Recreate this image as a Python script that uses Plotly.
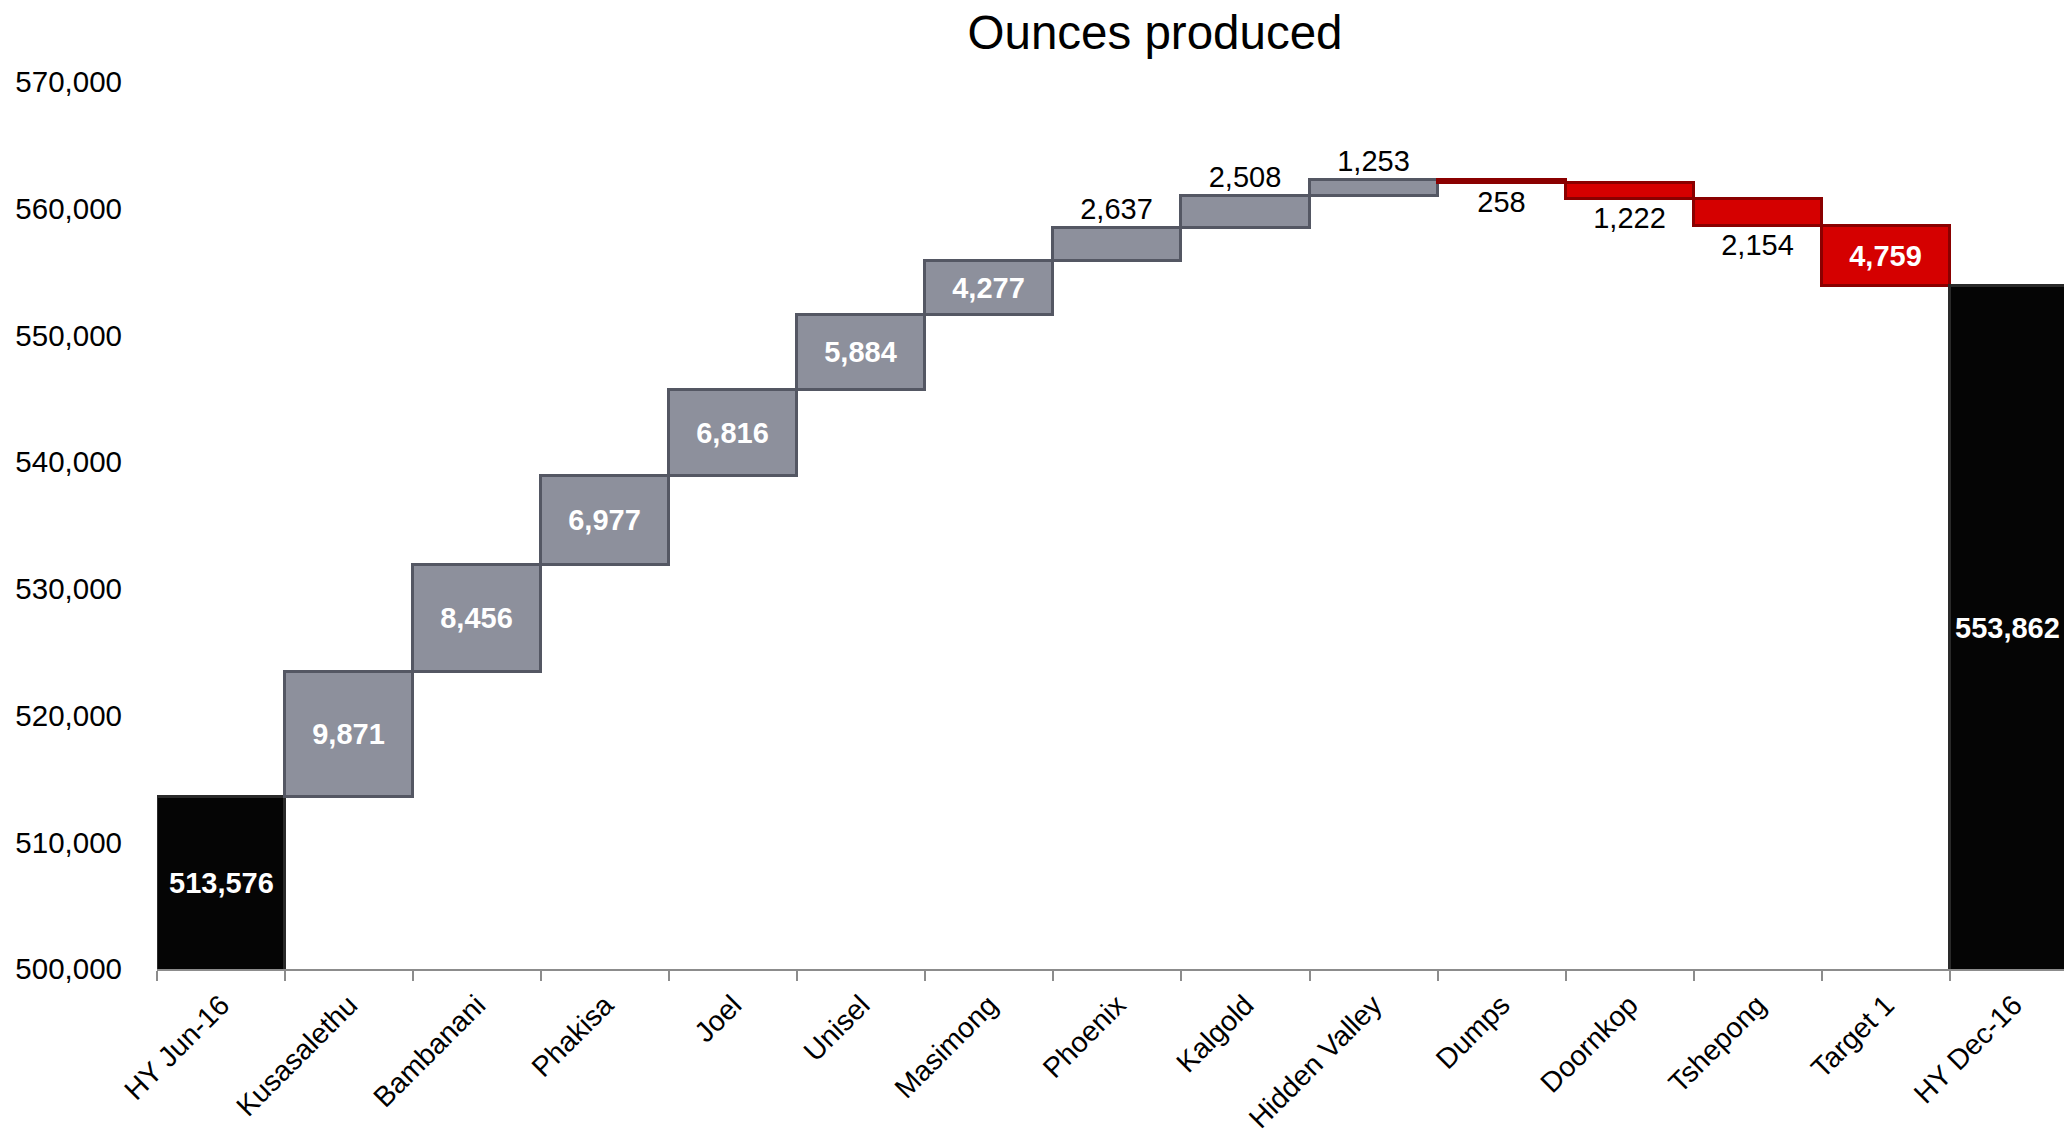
import plotly.graph_objects as go

categories = ["HY Jun-16", "Kusasalethu", "Bambanani", "Phakisa", "Joel", "Unisel",
              "Masimong", "Phoenix", "Kalgold", "Hidden Valley", "Dumps", "Doornkop",
              "Tshepong", "Target 1", "HY Dec-16"]
values = [513576, 9871, 8456, 6977, 6816, 5884, 4277, 2637, 2508, 1253,
          -258, -1222, -2154, -4759, 553862]
measures = ["absolute"] + ["relative"] * 13 + ["total"]
label_inside = [True, True, True, True, True, True, True, False, False, False,
                False, False, False, True, True]

y_min, y_max = 500000, 570000

FONT = "Liberation Sans, Arial, sans-serif"

texts = []
positions = []
for v, m, ins in zip(values, measures, label_inside):
    if m == "relative":
        texts.append(f"{abs(v):,}")
        positions.append("inside" if ins else "outside")
    else:
        texts.append("")
        positions.append("none")

fig = go.Figure()
fig.add_trace(go.Waterfall(
    x=categories,
    y=values,
    measure=measures,
    text=texts,
    textposition=positions,
    insidetextanchor="middle",
    insidetextfont=dict(family=FONT, size=29, color="white", weight="bold"),
    outsidetextfont=dict(family=FONT, size=29, color="black"),
    increasing=dict(marker=dict(color="#8D909C", line=dict(color="#545763", width=3))),
    decreasing=dict(marker=dict(color="#D50000", line=dict(color="#8A0000", width=3))),
    totals=dict(marker=dict(color="#050505", line=dict(color="#2A2A2A", width=3))),
    connector=dict(visible=False),
    cliponaxis=True,
    constraintext="none",
    hoverinfo="skip",
))

# labels for the two total bars, centred in their visible part
annotations = []
last = len(categories) - 1
for i, (c, v, m) in enumerate(zip(categories, values, measures)):
    if m in ("absolute", "total"):
        annotations.append(dict(
            x=c, y=(y_min + v) / 2, xref="x", yref="y",
            text=f"{v:,}", showarrow=False,
            xshift=-6 if i == last else 0,
            font=dict(family=FONT, size=29, color="white", weight="bold"),
        ))

W, H = 2064, 1134
left, top, bottom = 157, 82, 165
plot_w = W - left
cat_w = 128.06
x_hi = -0.5 + plot_w / cat_w

fig.update_layout(
    width=W, height=H,
    margin=dict(l=left, r=0, t=top, b=bottom),
    paper_bgcolor="white", plot_bgcolor="white",
    showlegend=False,
    waterfallgap=0,
    title=dict(text="Ounces produced", x=1155 / W, xref="container", xanchor="center",
               y=1 - 32 / H, yref="container", yanchor="middle",
               font=dict(family=FONT, size=47.5, color="black")),
    font=dict(family=FONT, color="black"),
    annotations=annotations,
    xaxis=dict(
        range=[-0.5, x_hi], showgrid=False, zeroline=False,
        showline=True, linecolor="#8C8C8C", linewidth=2,
        ticks="outside", tickson="boundaries", ticklen=10, tickwidth=2, tickcolor="#8C8C8C",
        tickangle=-45, tickfont=dict(family=FONT, size=28.5, color="black"),
        ticklabelstandoff=6,
        fixedrange=True,
    ),
    yaxis=dict(
        range=[y_min, y_max], dtick=10000, tickformat=",d",
        showgrid=False, zeroline=False, showline=False, ticks="",
        ticklabelstandoff=34,
        tickfont=dict(family=FONT, size=29.5, color="black"),
        fixedrange=True,
    ),
)

fig.write_html("out.html")
